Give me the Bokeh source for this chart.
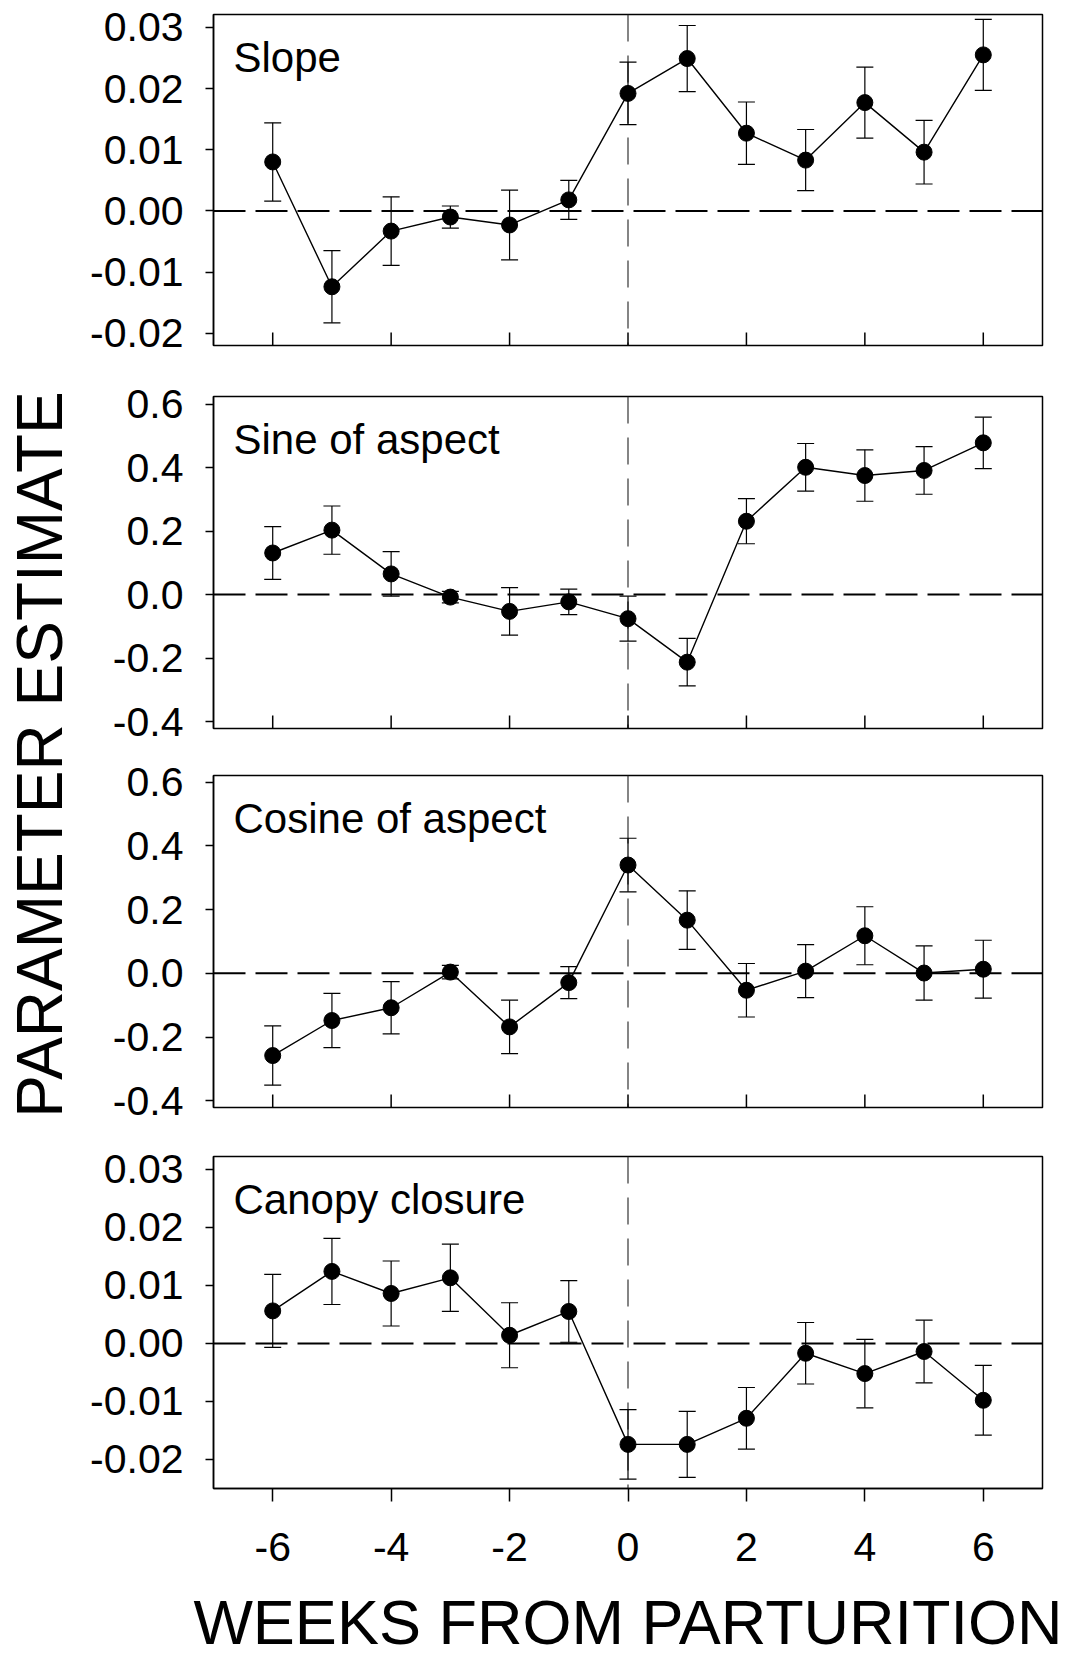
import math
from bokeh.plotting import figure
from bokeh.models import (Range1d, ColumnDataSource, Whisker, TeeHead, Span,
                          Label, FixedTicker)
from bokeh.layouts import row, column
from bokeh.embed import file_html
from bokeh.resources import INLINE

# ---------------- data ----------------
weeks = [-6, -5, -4, -3, -2, -1, 0, 1, 2, 3, 4, 5, 6]
week_ticks = [-6, -4, -2, 0, 2, 4, 6]
week_labels = ["-6", "-4", "-2", "0", "2", "4", "6"]

slope_est = [0.0080, -0.0124, -0.0033, -0.0010, -0.0023, 0.0018, 0.0192,
             0.0249, 0.0127, 0.0083, 0.0177, 0.0096, 0.0255]
slope_se = [0.0064, 0.0059, 0.0056, 0.0018, 0.0057, 0.0032, 0.0051,
            0.0054, 0.0051, 0.0050, 0.0058, 0.0052, 0.0058]

sine_est = [0.131, 0.203, 0.065, -0.008, -0.053, -0.023, -0.076,
            -0.213, 0.231, 0.401, 0.375, 0.391, 0.478]
sine_se = [0.083, 0.076, 0.070, 0.018, 0.075, 0.040, 0.071,
           0.075, 0.071, 0.075, 0.081, 0.075, 0.081]

cos_est = [-0.258, -0.148, -0.108, 0.004, -0.168, -0.029, 0.340,
           0.167, -0.053, 0.007, 0.118, 0.001, 0.013]
cos_se = [0.093, 0.085, 0.082, 0.021, 0.084, 0.050, 0.084,
          0.092, 0.084, 0.083, 0.091, 0.085, 0.091]

canopy_est = [0.0056, 0.0124, 0.0086, 0.0113, 0.0014, 0.0055, -0.0174,
              -0.0174, -0.0129, -0.0017, -0.0052, -0.0014, -0.0098]
canopy_se = [0.0063, 0.0057, 0.0056, 0.0058, 0.0056, 0.0053, 0.0060,
             0.0057, 0.0053, 0.0053, 0.0059, 0.0054, 0.0060]

small_ticks = [-0.02, -0.01, 0.0, 0.01, 0.02, 0.03]
small_labels = ["-0.02", "-0.01", "0.00", "0.01", "0.02", "0.03"]
aspect_ticks = [-0.4, -0.2, 0.0, 0.2, 0.4, 0.6]
aspect_labels = ["-0.4", "-0.2", "0.0", "0.2", "0.4", "0.6"]

panel_names = ["Slope", "Sine of aspect", "Cosine of aspect", "Canopy closure"]
x_title = "WEEKS FROM PARTURITION"
y_title = "PARAMETER ESTIMATE"

FONT = "Liberation Sans"
TICK_FS = "41px"


def make_panel(name, est, se, yr, yticks, ylabels, top, bottom, fh, last):
    p = figure(frame_width=829, frame_height=fh,
               min_border_left=133, min_border_right=43,
               min_border_top=top, min_border_bottom=bottom,
               x_range=Range1d(-7, 7), y_range=Range1d(*yr),
               output_backend="svg", toolbar_location=None,
               background_fill_color="white", border_fill_color="white")
    p.grid.visible = False
    p.outline_line_color = "black"
    p.outline_line_width = 1.5
    p.outline_line_alpha = 1.0

    # y axis
    ya = p.yaxis[0]
    ya.ticker = FixedTicker(ticks=yticks)
    ya.major_label_overrides = {t: l for t, l in zip(yticks, ylabels)}
    ya.major_tick_out = 8
    ya.major_tick_in = 0
    ya.minor_tick_line_color = None
    ya.major_label_standoff = 22
    ya.major_label_text_font = FONT
    ya.major_label_text_font_size = TICK_FS
    ya.major_label_text_color = "black"
    ya.axis_line_width = 1.5
    ya.major_tick_line_width = 1.5

    if last:
        xa = p.xaxis[0]
        xa.ticker = FixedTicker(ticks=week_ticks)
        xa.major_label_overrides = {t: l for t, l in zip(week_ticks, week_labels)}
        xa.minor_tick_line_color = None
        xa.axis_line_width = 1.5
        xa.major_tick_line_width = 1.5
        xa.major_tick_out = 13
        xa.major_tick_in = 0
        xa.major_label_standoff = 31
        xa.major_label_text_font = FONT
        xa.major_label_text_font_size = TICK_FS
        xa.major_label_text_color = "black"
        xa.axis_label = x_title
        xa.axis_label_text_font = FONT
        xa.axis_label_text_font_size = "63px"
        xa.axis_label_text_font_style = "normal"
        xa.axis_label_text_color = "black"
        xa.axis_label_standoff = 23
    else:
        # unlabeled axis: inward tick marks only, at the week tick positions
        p.xaxis.visible = False
        span = yr[1] - yr[0]
        p.segment(x0=week_ticks, x1=week_ticks,
                  y0=[yr[0]] * len(week_ticks),
                  y1=[yr[0] + 13 * span / fh] * len(week_ticks),
                  line_color="black", line_width=1.5)

    # reference lines
    p.add_layout(Span(location=0, dimension="width", line_dash="32 10",
                      line_width=2, line_color="black", level="underlay"))
    p.add_layout(Span(location=0, dimension="height", line_dash="27 14",
                      line_width=1.2, line_color="#333333", level="underlay"))

    src = ColumnDataSource(dict(
        x=weeks, y=est,
        upper=[e + s for e, s in zip(est, se)],
        lower=[e - s for e, s in zip(est, se)]))

    p.line("x", "y", source=src, line_color="black", line_width=1.4)
    p.add_layout(Whisker(source=src, base="x", upper="upper", lower="lower",
                         line_color="black", line_width=1.2,
                         upper_head=TeeHead(size=17, line_width=1.2, line_color="black"),
                         lower_head=TeeHead(size=17, line_width=1.2, line_color="black")))
    p.scatter("x", "y", source=src, size=16, marker="circle",
              fill_color="black", line_color="black")

    p.add_layout(Label(x=-7, y=yr[1], x_offset=20, y_offset=-43, text=name,
                       text_font=FONT, text_font_size="42px",
                       text_color="black", text_align="left",
                       text_baseline="alphabetic"))
    return p


p1 = make_panel(panel_names[0], slope_est, slope_se, (-0.0220, 0.0321),
                small_ticks, small_labels, 14, 25, 331, False)
p2 = make_panel(panel_names[1], sine_est, sine_se, (-0.422, 0.624),
                aspect_ticks, aspect_labels, 26, 23, 332, False)
p3 = make_panel(panel_names[2], cos_est, cos_se, (-0.421, 0.621),
                aspect_ticks, aspect_labels, 24, 24, 332, False)
p4 = make_panel(panel_names[3], canopy_est, canopy_se, (-0.0250, 0.0322),
                small_ticks, small_labels, 25, 165, 332, True)

H = (14 + 331 + 25) + (26 + 332 + 23) + (24 + 332 + 24) + (25 + 332 + 165)
YW = 80
yfig = figure(width=YW, height=H, min_border=0,
              x_range=Range1d(0, YW), y_range=Range1d(0, H),
              x_axis_location=None, y_axis_location=None,
              output_backend="svg", toolbar_location=None,
              background_fill_color="white", border_fill_color="white")
yfig.grid.visible = False
yfig.outline_line_color = None
yfig.add_layout(Label(x=39, y=H - 754, text=y_title, angle=math.pi / 2,
                      text_font=FONT, text_font_size="64px",
                      text_color="black", text_align="center",
                      text_baseline="middle"))

layout = row(yfig, column(p1, p2, p3, p4))

open("out.html", "w").write(file_html(layout, INLINE))
